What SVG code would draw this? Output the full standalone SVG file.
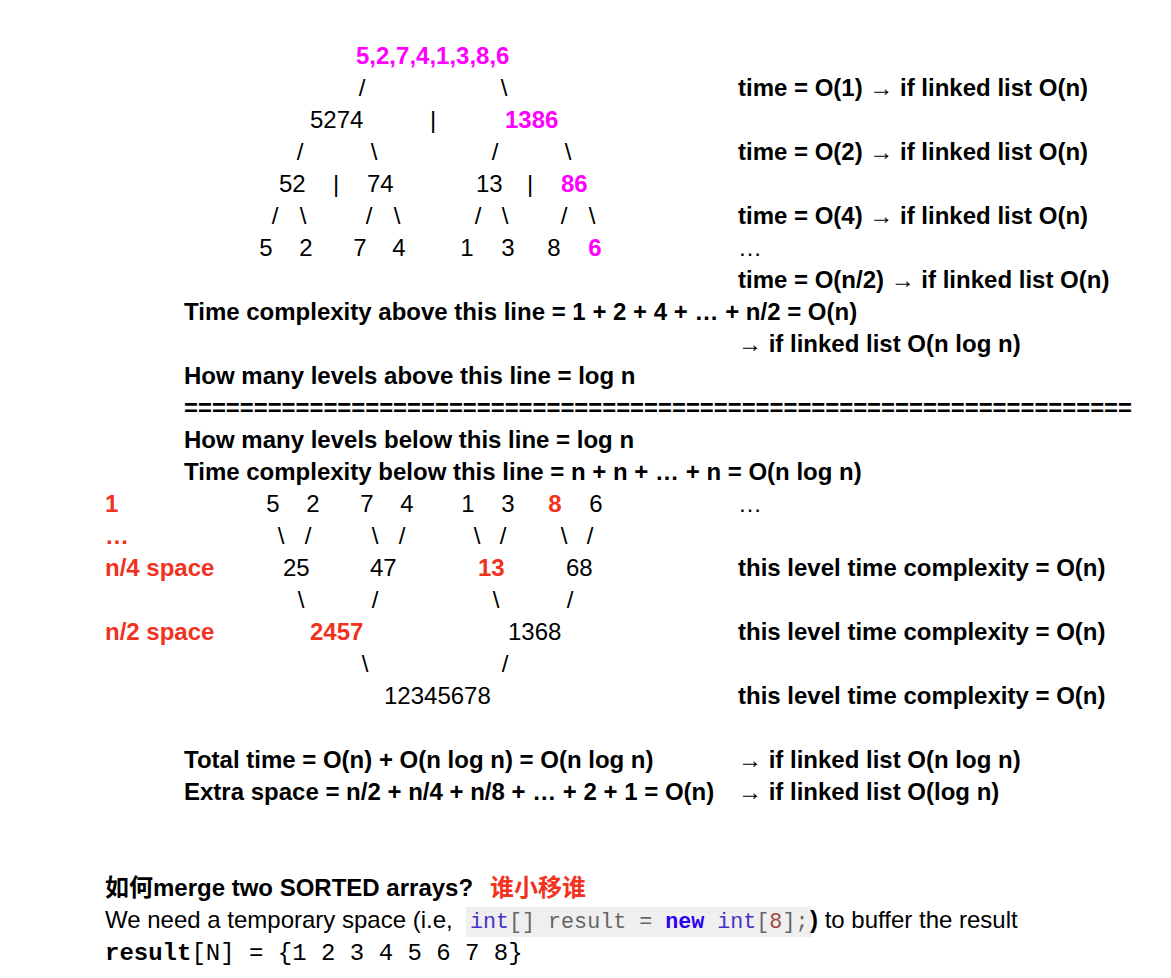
<svg xmlns="http://www.w3.org/2000/svg" width="1171" height="978" viewBox="0 0 1171 978">
<style>
text { font-family: "Liberation Sans", Arial, sans-serif; font-size: 24px; fill: #000; }
.b { font-weight: bold; }
.m { fill: #ff00ff; font-weight: bold; }
.red { fill: #f0321e; font-weight: bold; }
.c { text-anchor: middle; }
.mid { text-anchor: middle; }
.mono { font-family: "Liberation Mono", "Courier New", monospace; }
.cjk { font-family: "Liberation Sans", "Noto Sans CJK SC", sans-serif; }
</style>
<rect x="0" y="0" width="1171" height="978" fill="#ffffff"/>

<!-- Top split tree -->
<g id="split-tree">
  <g id="n-root"><text class="m" x="356" y="64">5,2,7,4,1,3,8,6</text></g>
  <g id="n-5274"><text x="310" y="128">5274</text></g>
  <g id="sep-1"><text class="c" x="433" y="128">|</text></g>
  <g id="n-1386"><text class="m" x="505" y="128">1386</text></g>
  <g id="n-52"><text x="279" y="192">52</text></g>
  <g id="sep-2"><text class="c" x="336" y="192">|</text></g>
  <g id="n-74"><text x="367" y="192">74</text></g>
  <g id="n-13"><text x="476" y="192">13</text></g>
  <g id="sep-3"><text class="c" x="530" y="192">|</text></g>
  <g id="n-86"><text class="m" x="561" y="192">86</text></g>
  <g id="leaves-top">
    <text class="mid" x="266" y="256">5</text>
    <text class="mid" x="306" y="256">2</text>
    <text class="mid" x="360" y="256">7</text>
    <text class="mid" x="399" y="256">4</text>
    <text class="mid" x="467" y="256">1</text>
    <text class="mid" x="508" y="256">3</text>
    <text class="mid" x="554" y="256">8</text>
    <text class="m mid" x="595" y="256">6</text>
  </g>
</g>

<g id="connectors">
  <!-- top tree -->
  <text class="c" x="362" y="96">/</text>
  <text class="c" x="504" y="96">\</text>
  <text class="c" x="300" y="160">/</text>
  <text class="c" x="374" y="160">\</text>
  <text class="c" x="495" y="160">/</text>
  <text class="c" x="568" y="160">\</text>
  <text class="c" x="275" y="224">/</text>
  <text class="c" x="303" y="224">\</text>
  <text class="c" x="369" y="224">/</text>
  <text class="c" x="397" y="224">\</text>
  <text class="c" x="478" y="224">/</text>
  <text class="c" x="505" y="224">\</text>
  <text class="c" x="564" y="224">/</text>
  <text class="c" x="592" y="224">\</text>
  <!-- bottom merge tree -->
  <text class="c" x="281" y="544">\</text>
  <text class="c" x="308" y="544">/</text>
  <text class="c" x="375" y="544">\</text>
  <text class="c" x="402" y="544">/</text>
  <text class="c" x="477" y="544">\</text>
  <text class="c" x="503" y="544">/</text>
  <text class="c" x="564" y="544">\</text>
  <text class="c" x="590" y="544">/</text>
  <text class="c" x="301" y="608">\</text>
  <text class="c" x="375" y="608">/</text>
  <text class="c" x="496" y="608">\</text>
  <text class="c" x="570" y="608">/</text>
  <text class="c" x="365" y="672">\</text>
  <text class="c" x="505" y="672">/</text>
</g>

<!-- Right column notes (top) -->
<g id="notes-top">
  <text class="b" x="738" y="96">time = O(1) → if linked list O(n)</text>
  <text class="b" x="738" y="160">time = O(2) → if linked list O(n)</text>
  <text class="b" x="738" y="224">time = O(4) → if linked list O(n)</text>
  <text x="738" y="256">…</text>
  <text class="b" x="738" y="288">time = O(n/2) → if linked list O(n)</text>
  <text class="b" x="184" y="320">Time complexity above this line = 1 + 2 + 4 + … + n/2 = O(n)</text>
  <text class="b" x="738" y="352">→ if linked list O(n log n)</text>
  <text class="b" x="184" y="384">How many levels above this line = log n</text>
  <text class="b" x="184" y="416" textLength="948" lengthAdjust="spacingAndGlyphs">====================================================================</text>
  <text class="b" x="184" y="448">How many levels below this line = log n</text>
  <text class="b" x="184" y="480">Time complexity below this line = n + n + … + n = O(n log n)</text>
</g>

<!-- Bottom merge tree -->
<g id="merge-tree">
  <g id="space-labels">
    <text class="red" x="105" y="512">1</text>
    <text class="red" x="105" y="544">…</text>
    <text class="red" x="105" y="576">n/4 space</text>
    <text class="red" x="105" y="640">n/2 space</text>
  </g>
  <g id="leaves-bottom">
    <text class="mid" x="273" y="512">5</text>
    <text class="mid" x="313" y="512">2</text>
    <text class="mid" x="367" y="512">7</text>
    <text class="mid" x="407" y="512">4</text>
    <text class="mid" x="468" y="512">1</text>
    <text class="mid" x="508" y="512">3</text>
    <text class="red mid" x="555" y="512">8</text>
    <text class="mid" x="596" y="512">6</text>
  </g>
  <g id="n-25"><text x="283" y="576">25</text></g>
  <g id="n-47"><text x="370" y="576">47</text></g>
  <g id="n-13b"><text class="red" x="478" y="576">13</text></g>
  <g id="n-68"><text x="566" y="576">68</text></g>
  <g id="n-2457"><text class="red" x="310" y="640">2457</text></g>
  <g id="n-1368"><text x="508" y="640">1368</text></g>
  <g id="n-12345678"><text x="384" y="704">12345678</text></g>
</g>

<g id="notes-bottom">
  <text x="738" y="512">…</text>
  <text class="b" x="738" y="576">this level time complexity = O(n)</text>
  <text class="b" x="738" y="640">this level time complexity = O(n)</text>
  <text class="b" x="738" y="704">this level time complexity = O(n)</text>
  <text class="b" x="184" y="768">Total time = O(n) + O(n log n) = O(n log n)</text>
  <text class="b" x="738" y="768">→ if linked list O(n log n)</text>
  <text class="b" x="184" y="800">Extra space = n/2 + n/4 + n/8 + … + 2 + 1 = O(n)</text>
  <text class="b" x="738" y="800">→ if linked list O(log n)</text>
</g>

<g id="merge-question">
  <text class="b cjk" x="105" y="896">如何merge two SORTED arrays?</text>
  <text class="red cjk" x="490" y="896">谁小移谁</text>
  <text x="105" y="928">We need a temporary space (i.e,</text>
  <rect x="466" y="907" width="346" height="30" fill="#efefef"/>
  <text class="mono" x="470" y="928" style="font-size:21.7px"><tspan fill="#4433c8">int</tspan><tspan fill="#666666">[] result = </tspan><tspan fill="#2a00f0" font-weight="bold">new</tspan><tspan fill="#666666"> </tspan><tspan fill="#4433c8">int</tspan><tspan fill="#666666">[</tspan><tspan fill="#9c4646">8</tspan><tspan fill="#666666">];</tspan></text>
  <text x="810" y="928"><tspan font-weight="bold">)</tspan> to buffer the result</text>
  <text class="mono" x="105" y="960"><tspan font-weight="bold">result</tspan>[N] = {1 2 3 4 5 6 7 8}</text>
</g>
</svg>
